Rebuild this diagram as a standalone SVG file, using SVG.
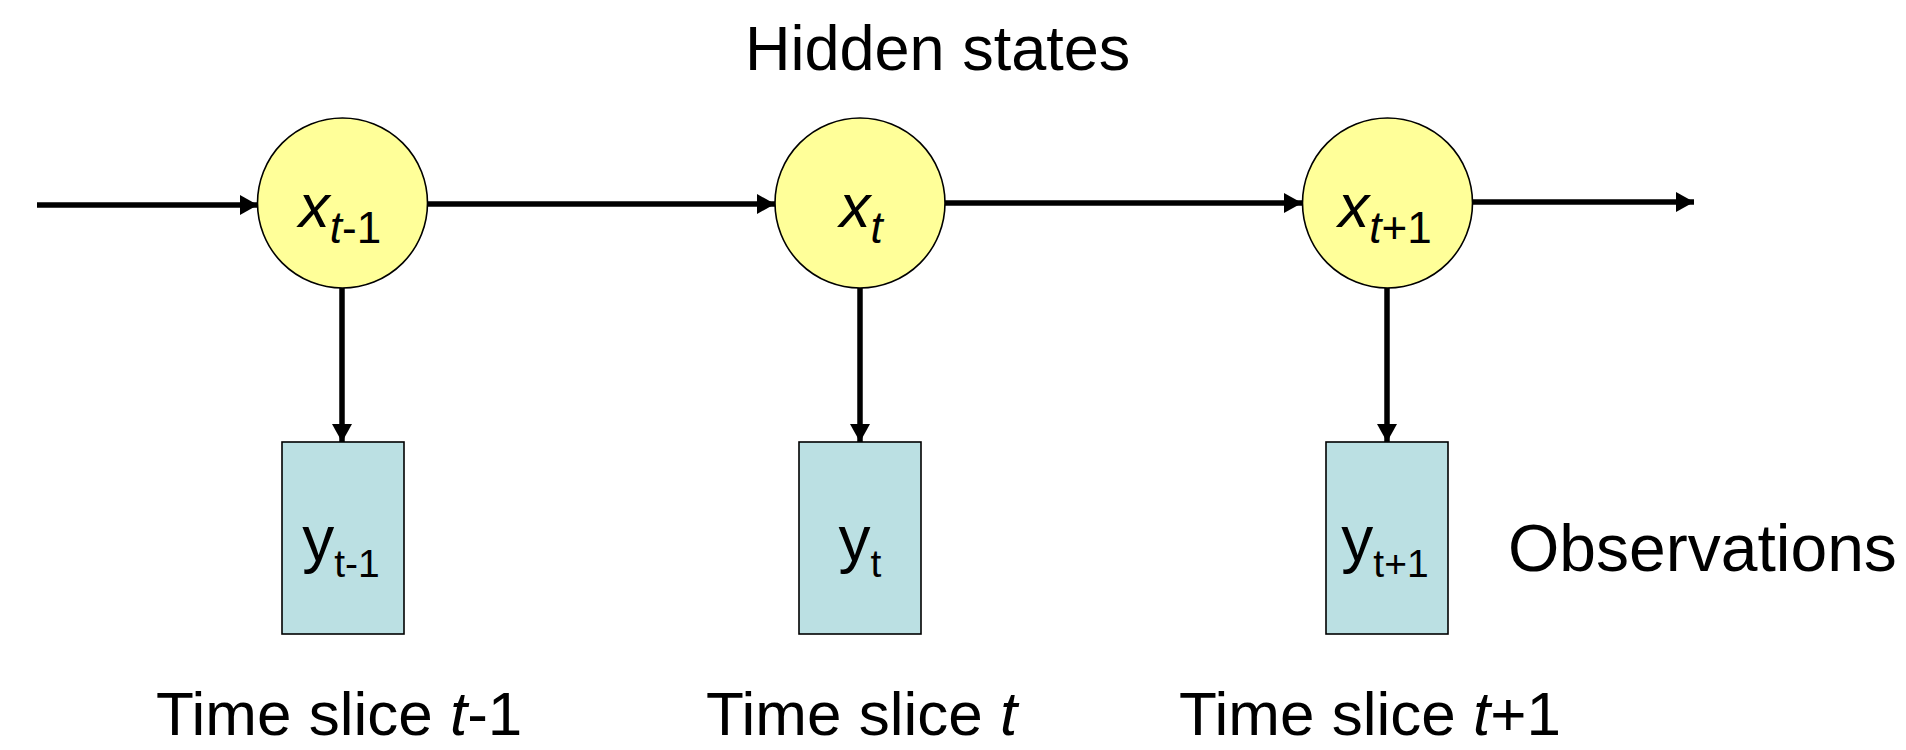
<svg xmlns="http://www.w3.org/2000/svg" width="1906" height="750" viewBox="0 0 1906 750">
<style>
  text { font-family: "Liberation Sans", Arial, sans-serif; fill: #000; }
  .state { fill: #ffff99; stroke: #000; stroke-width: 1.6; }
  .obs { fill: #bbe0e3; stroke: #000; stroke-width: 1.6; }
  .edge { stroke: #000; stroke-width: 5.5; fill: none; marker-end: url(#arrow); }
  .label { font-size: 63px; }
  .xmain { font-size: 62px; font-style: italic; }
  .xsub { font-size: 44px; }
  .it { font-style: italic; }
  .ymain { font-size: 64px; }
  .ysub { font-size: 39px; }
</style>
<defs>
  <marker id="arrow" markerUnits="userSpaceOnUse" markerWidth="19" markerHeight="20" refX="18" refY="10" orient="auto">
    <path d="M0,0 L18,10 L0,20 Z" fill="#000"/>
  </marker>
</defs>
<rect width="1906" height="750" fill="#fff"/>

<g id="connectors">
  <line class="edge" x1="37" y1="205" x2="258" y2="205"/>
  <line class="edge" x1="427" y1="204" x2="775" y2="204"/>
  <line class="edge" x1="945" y1="203" x2="1302" y2="203"/>
  <line class="edge" x1="1473" y1="202" x2="1694" y2="202"/>
  <line class="edge" x1="342" y1="288" x2="342" y2="442"/>
  <line class="edge" x1="860" y1="288" x2="860" y2="442"/>
  <line class="edge" x1="1387" y1="288" x2="1387" y2="442"/>
</g>

<g id="x_t-1">
  <circle class="state" cx="342.5" cy="203" r="85"/>
  <text x="340" y="227" text-anchor="middle"><tspan class="xmain">x</tspan><tspan class="xsub" dy="16"><tspan class="it">t</tspan>-1</tspan></text>
</g>
<g id="x_t">
  <circle class="state" cx="860" cy="203" r="85"/>
  <text x="861" y="227" text-anchor="middle"><tspan class="xmain">x</tspan><tspan class="xsub it" dy="16">t</tspan></text>
</g>
<g id="x_t+1">
  <circle class="state" cx="1387.5" cy="203" r="85"/>
  <text x="1385" y="227" text-anchor="middle"><tspan class="xmain">x</tspan><tspan class="xsub" dy="16"><tspan class="it">t</tspan>+1</tspan></text>
</g>

<g id="y_t-1">
  <rect class="obs" x="282" y="442" width="122" height="192"/>
  <text x="341" y="561" text-anchor="middle"><tspan class="ymain">y</tspan><tspan class="ysub" dy="16">t-1</tspan></text>
</g>
<g id="y_t">
  <rect class="obs" x="799" y="442" width="122" height="192"/>
  <text x="860" y="561" text-anchor="middle"><tspan class="ymain">y</tspan><tspan class="ysub" dy="16">t</tspan></text>
</g>
<g id="y_t+1">
  <rect class="obs" x="1326" y="442" width="122" height="192"/>
  <text x="1385" y="561" text-anchor="middle"><tspan class="ymain">y</tspan><tspan class="ysub" dy="16">t+1</tspan></text>
</g>

<g id="labels">
  <text class="label" x="745" y="70">Hidden states</text>
  <text class="label" x="1508" y="571" style="font-size:66px">Observations</text>
  <text class="label" x="156" y="735" style="font-size:62px">Time slice <tspan font-style="italic">t</tspan>-1</text>
  <text class="label" x="706" y="735" style="font-size:62px">Time slice <tspan font-style="italic">t</tspan></text>
  <text class="label" x="1179" y="735" style="font-size:62px">Time slice <tspan font-style="italic">t</tspan>+1</text>
</g>
</svg>
